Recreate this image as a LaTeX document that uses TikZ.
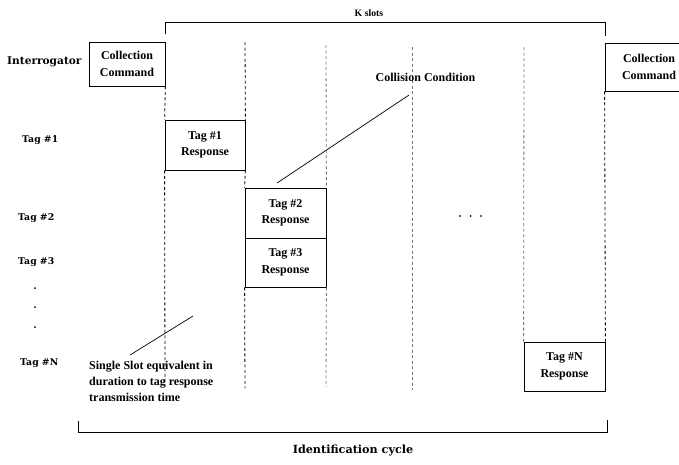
\documentclass[tikz,border=0pt]{standalone}
\usepackage{fontspec}
\setmainfont{Liberation Serif}
\newfontfamily\widefont{DejaVu Serif}
\begin{document}
\begin{tikzpicture}[x=1pt,y=-1pt,
  box/.style={draw,line width=0.8pt,inner sep=0pt,align=center,
    font=\fontsize{12}{16.5}\selectfont\bfseries},
  lbl/.style={font=\widefont\fontsize{9.3}{11}\selectfont\bfseries,anchor=west,inner sep=0pt},
  txt/.style={font=\fontsize{12}{16}\selectfont\bfseries,inner sep=0pt},
  sl/.style={dash pattern=on 3pt off 2.5pt,line width=0.8pt},
  slg/.style={sl,draw=black!55},
  br/.style={line width=0.8pt}]
\useasboundingbox (0,0) rectangle (679,464);
% boxes
\node[box,minimum width=76pt,minimum height=44pt] (cc1) at (127,64) {Collection\\Command};
\node[box,minimum width=88pt,minimum height=48pt,text width=80pt] (cc2) at (649,67) {Collection\\Command};
\node[box,minimum width=80pt,minimum height=50pt] (t1) at (205,145) {Tag \#1\\Response};
\node[box,minimum width=81pt,minimum height=50pt] (t2) at (285.5,213) {Tag \#2\\Response};
\node[box,minimum width=81pt,minimum height=49pt] (t3) at (285.5,262.5) {Tag \#3\\Response};
\node[box,minimum width=81pt,minimum height=49pt] (tN) at (564.5,366.5) {Tag \#N\\Response};
% left labels
\node[lbl,font=\widefont\fontsize{10.6}{12}\selectfont\bfseries] (int) at (7,62) {Interrogator};
\node[lbl] (l1) at (22,140) {Tag \#1};
\node[lbl] (l2) at (18,218) {Tag \#2};
\node[lbl] (l3) at (18,262) {Tag \#3};
\node[lbl] (lN) at (20,363) {Tag \#N};
\foreach \yy in {288,307,327} \fill (35,\yy) circle (1pt);
\foreach \xx in {460,470.5,481} \fill (\xx,216) circle (1pt);
% slot coordinates
\coordinate (a1) at (165,382);
\coordinate (b0) at (245,42);
\coordinate (b1) at (245,388);
\coordinate (c0) at (326,45);
\coordinate (c1) at (326,387);
\coordinate (d0) at (412,47);
\coordinate (d1) at (412,390);
\coordinate (e0) at (524,47);
% dashed slot lines
\draw[sl] (cc1.south east) -- (t1.north west);
\draw[sl] (t1.south west) -- (a1);
\draw[sl] (b0) -- (t1.north east);
\draw[sl] (t1.south east) -- (t2.north west);
\draw[sl] (t3.south west) -- (b1);
\draw[slg] (c0) -- (t2.north east);
\draw[slg] (t3.south east) -- (c1);
\draw[slg] (d0) -- (d1);
\draw[slg] (e0) -- (tN.north west);
\draw[sl] (cc2.south west) -- (tN.north east);
% K slots bracket
\coordinate (k1) at (165,34);
\coordinate (k2) at (165,22);
\coordinate (k3) at (605,22);
\coordinate (k4) at (605,36);
\draw[br] (k1) -- (k2) -- (k3) -- (k4);
\node[txt,font=\fontsize{9.8}{11}\selectfont\bfseries] (ks) at (369,13) {K slots};
% identification bracket
\coordinate (i1) at (78,421);
\coordinate (i2) at (78,432);
\coordinate (i3) at (607,432);
\coordinate (i4) at (607,420);
\draw[br] (i1) -- (i2) -- (i3) -- (i4);
\node[txt,font=\widefont\fontsize{11.2}{13}\selectfont\bfseries] (ic) at (353,450) {Identification cycle};
% collision
\node[txt] (coll) at (425.5,77) {Collision Condition};
\coordinate (cl1) at (277,183);
\coordinate (cl2) at (409,95);
\draw[line width=0.7pt] (cl1) -- (cl2);
% single slot
\node[txt,anchor=north west,align=left] (ss) at (89,361) {Single Slot equivalent in\\duration to tag response\\transmission time};
\coordinate (s1) at (130,355);
\coordinate (s2) at (193,316);
\draw[line width=0.7pt] (s1) -- (s2);
\end{tikzpicture}
\end{document}
